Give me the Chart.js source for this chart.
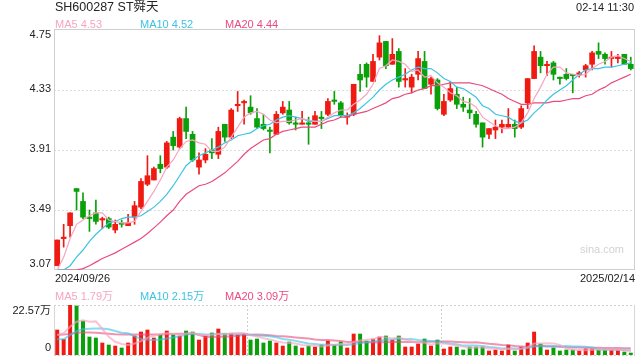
<!DOCTYPE html>
<html>
<head>
<meta charset="utf-8">
<script src="https://cdn.jsdelivr.net/npm/chart.js@4.4.0/dist/chart.umd.min.js"></script>
<style>
  body { margin: 0; background: #fff; width: 640px; height: 360px; overflow: hidden; position: relative;
         font-family: Arial, "Liberation Sans", "Noto Sans CJK SC", sans-serif; }
  canvas { position: absolute; left: 0; }
  #kline { top: 0; }
  #vol { top: 280px; }
  .t { position: absolute; white-space: nowrap; line-height: 1; }
</style>
</head>
<body>
<canvas id="kline" width="640" height="292"></canvas>
<canvas id="vol" width="640" height="80"></canvas>
<div class="t" style="left:55px;top:1px;font-size:12.5px;color:#222">SH600287 ST舜天</div>
<div class="t" style="right:6px;top:2px;font-size:11px;color:#222">02-14 11:30</div>
<div class="t" id="lg5" style="left:55px;top:18.5px;font-size:11px"></div>
<div class="t" id="lg10" style="left:140px;top:18.5px;font-size:11px"></div>
<div class="t" id="lg20" style="left:225px;top:18.5px;font-size:11px"></div>
<div class="t" id="vl5" style="left:55px;top:290.5px;font-size:11px"></div>
<div class="t" id="vl10" style="left:140px;top:290.5px;font-size:11px"></div>
<div class="t" id="vl20" style="left:225px;top:290.5px;font-size:11px"></div>
<script>
// trading days shown
const dates = [
  '2024/09/26','2024/09/27','2024/09/30',
  '2024/10/08','2024/10/09','2024/10/10','2024/10/11','2024/10/14','2024/10/15','2024/10/16','2024/10/17','2024/10/18',
  '2024/10/21','2024/10/22','2024/10/23','2024/10/24','2024/10/25','2024/10/28','2024/10/29','2024/10/30','2024/10/31',
  '2024/11/01','2024/11/04','2024/11/05','2024/11/06','2024/11/07','2024/11/08','2024/11/11','2024/11/12','2024/11/13',
  '2024/11/14','2024/11/15','2024/11/18','2024/11/19','2024/11/20','2024/11/21','2024/11/22','2024/11/25','2024/11/26',
  '2024/11/27','2024/11/28','2024/11/29',
  '2024/12/02','2024/12/03','2024/12/04','2024/12/05','2024/12/06','2024/12/09','2024/12/10','2024/12/11','2024/12/12',
  '2024/12/13','2024/12/16','2024/12/17','2024/12/18','2024/12/19','2024/12/20','2024/12/23','2024/12/24','2024/12/25',
  '2024/12/26','2024/12/27','2024/12/30','2024/12/31',
  '2025/01/02','2025/01/03','2025/01/06','2025/01/07','2025/01/08','2025/01/09','2025/01/10','2025/01/13','2025/01/14',
  '2025/01/15','2025/01/16','2025/01/17','2025/01/20','2025/01/21','2025/01/22','2025/01/23','2025/01/24','2025/01/27',
  '2025/02/05','2025/02/06','2025/02/07','2025/02/10','2025/02/11','2025/02/12','2025/02/13','2025/02/14'
];

const open = [
  3.10,3.29,3.38,3.64,3.55,3.44,3.47,3.42,3.43,3.35,
  3.40,3.38,3.44,3.51,3.67,3.70,3.81,3.79,4.00,3.93,
  4.13,4.02,3.79,3.84,3.91,3.88,4.09,4.00,4.22,4.24,
  4.21,4.13,4.09,4.05,4.02,4.17,4.19,4.10,4.09,4.10,
  4.09,4.14,4.16,4.26,4.24,4.14,4.16,4.44,4.51,4.39,
  4.56,4.67,4.51,4.60,4.40,4.35,4.44,4.53,4.37,4.40,
  4.16,4.26,4.30,4.23,4.19,4.16,4.10,4.02,4.05,4.07,
  4.07,4.09,4.07,4.24,4.41,4.56,4.50,4.52,4.42,4.44,
  4.44,4.44,4.47,4.51,4.60,4.58,4.55,4.55,4.58,4.51
];
const high = [
  3.28,3.39,3.47,3.64,3.61,3.49,3.56,3.44,3.44,3.42,
  3.42,3.46,3.55,3.71,3.87,3.79,3.87,3.97,4.04,4.14,
  4.21,4.04,3.89,3.92,3.99,4.07,4.09,4.20,4.32,4.26,
  4.29,4.20,4.16,4.07,4.18,4.25,4.25,4.14,4.18,4.14,
  4.18,4.18,4.27,4.32,4.25,4.17,4.37,4.51,4.52,4.58,
  4.71,4.67,4.69,4.62,4.48,4.44,4.60,4.60,4.42,4.41,
  4.30,4.39,4.35,4.28,4.27,4.18,4.10,4.06,4.12,4.12,
  4.20,4.12,4.22,4.41,4.64,4.60,4.53,4.53,4.42,4.48,
  4.44,4.46,4.51,4.60,4.66,4.59,4.60,4.58,4.58,4.56
];
const low = [
  3.10,3.23,3.30,3.49,3.43,3.34,3.39,3.36,3.36,3.33,
  3.37,3.38,3.39,3.50,3.66,3.70,3.75,3.78,3.91,3.92,
  3.99,3.83,3.74,3.82,3.85,3.85,3.97,3.99,4.18,4.09,
  4.16,4.06,4.05,3.89,4.02,4.16,4.09,4.05,4.09,3.95,
  4.09,4.06,4.15,4.23,4.14,4.09,4.15,4.32,4.35,4.39,
  4.54,4.48,4.51,4.35,4.35,4.31,4.40,4.34,4.30,4.19,
  4.15,4.25,4.20,4.18,4.13,4.07,3.93,3.99,3.99,4.03,
  4.07,4.00,4.06,4.20,4.41,4.45,4.43,4.40,4.37,4.40,
  4.31,4.42,4.42,4.47,4.55,4.51,4.49,4.52,4.51,4.47
];
const close = [
  3.28,3.30,3.47,3.62,3.44,3.43,3.41,3.43,3.37,3.39,
  3.39,3.40,3.52,3.69,3.73,3.78,3.78,3.96,3.94,4.13,
  4.04,3.84,3.84,3.88,3.89,4.04,4.00,4.19,4.23,4.25,
  4.17,4.07,4.06,4.04,4.16,4.21,4.10,4.09,4.10,4.09,
  4.15,4.13,4.25,4.25,4.15,4.15,4.37,4.40,4.42,4.53,
  4.66,4.50,4.58,4.39,4.41,4.42,4.55,4.34,4.41,4.20,
  4.25,4.34,4.23,4.21,4.17,4.09,4.00,4.06,4.07,4.09,
  4.09,4.06,4.20,4.41,4.60,4.50,4.51,4.44,4.41,4.41,
  4.43,4.45,4.50,4.59,4.58,4.55,4.56,4.56,4.51,4.48
];

// moving average lines
const ma5 = [
  3.07,3.16,3.29,3.39,3.42,3.45,3.47,3.47,3.42,3.41,
  3.40,3.40,3.41,3.48,3.55,3.62,3.70,3.79,3.84,3.92,
  3.97,3.98,3.96,3.95,3.90,3.90,3.93,4.00,4.07,4.14,
  4.17,4.18,4.16,4.12,4.10,4.11,4.11,4.12,4.13,4.12,
  4.11,4.11,4.14,4.17,4.19,4.19,4.23,4.26,4.30,4.37,
  4.48,4.50,4.54,4.53,4.51,4.46,4.47,4.42,4.43,4.38,
  4.35,4.31,4.29,4.25,4.24,4.21,4.14,4.11,4.08,4.06,
  4.06,4.07,4.10,4.17,4.27,4.35,4.44,4.49,4.49,4.45,
  4.44,4.43,4.44,4.48,4.51,4.53,4.56,4.57,4.55,4.53
];
const ma10 = [
  3.07,3.07,3.10,3.16,3.21,3.27,3.32,3.36,3.40,3.41,
  3.43,3.44,3.44,3.45,3.48,3.51,3.55,3.60,3.66,3.73,
  3.80,3.84,3.87,3.89,3.91,3.93,3.96,3.98,4.01,4.02,
  4.03,4.06,4.08,4.09,4.12,4.14,4.15,4.14,4.13,4.11,
  4.11,4.11,4.13,4.15,4.15,4.15,4.17,4.20,4.24,4.28,
  4.33,4.37,4.40,4.42,4.44,4.47,4.49,4.48,4.48,4.45,
  4.41,4.39,4.35,4.34,4.31,4.28,4.22,4.20,4.16,4.15,
  4.14,4.11,4.10,4.12,4.17,4.21,4.26,4.30,4.33,4.36,
  4.40,4.44,4.47,4.48,4.48,4.49,4.49,4.50,4.51,4.52
];
const ma20 = [
  3.07,3.07,3.07,3.07,3.08,3.10,3.125,3.15,3.17,3.19,
  3.215,3.24,3.265,3.29,3.325,3.365,3.405,3.45,3.49,3.55,
  3.60,3.63,3.66,3.67,3.69,3.72,3.75,3.79,3.83,3.88,
  3.92,3.95,3.98,3.99,4.02,4.04,4.05,4.06,4.07,4.07,
  4.07,4.09,4.11,4.12,4.14,4.14,4.16,4.17,4.18,4.20,
  4.22,4.24,4.27,4.28,4.30,4.31,4.33,4.34,4.36,4.36,
  4.37,4.38,4.38,4.38,4.38,4.37,4.36,4.34,4.32,4.30,
  4.27,4.25,4.23,4.23,4.24,4.24,4.24,4.25,4.25,4.26,
  4.27,4.27,4.29,4.30,4.33,4.35,4.38,4.40,4.42,4.44
];

// volume, in 万 shares
const volume = [
  11.29,7.07,22.57,22.12,15.35,8.13,7.67,5.42,4.51,4.06,
  3.16,5.42,8.58,10.38,11.29,7.67,9.03,10.83,9.03,8.58,
  10.83,10.38,6.77,8.58,9.93,11.74,9.48,9.48,9.03,9.48,
  6.77,7.22,5.42,6.32,5.42,4.06,5.87,4.06,3.16,4.06,
  3.61,4.51,6.32,4.51,5.87,3.16,9.48,9.48,6.32,7.22,
  8.13,8.58,6.77,8.58,3.61,3.61,4.97,7.22,4.06,6.77,
  2.71,3.61,3.61,2.26,3.61,3.61,3.61,1.81,2.26,1.81,
  4.51,1.81,3.61,5.42,10.38,4.97,2.26,3.16,1.81,2.26,
  2.26,1.81,2.71,2.71,2.26,2.26,2.26,2.26,1.35,0.90
];
const vma5 = [
  9.0,9.8,12.8,15.0,15.68,15.05,15.17,11.74,8.22,5.96,
  4.96,4.51,5.15,6.32,7.77,8.67,9.39,9.84,9.57,9.03,
  9.66,9.93,9.12,9.03,9.30,9.48,9.30,9.84,9.93,9.84,
  8.85,8.40,7.58,7.04,6.23,5.69,5.42,5.15,4.51,4.24,
  4.15,3.88,4.33,4.60,4.96,4.87,5.87,6.50,6.86,7.13,
  8.13,7.95,7.40,7.86,7.13,6.23,5.51,5.60,4.69,5.33,
  5.15,4.87,4.15,3.79,3.16,3.34,3.34,2.98,2.98,2.62,
  2.80,2.44,2.80,3.43,5.15,5.24,5.33,5.24,4.52,2.89,
  2.35,2.26,2.17,2.35,2.35,2.35,2.44,2.35,2.08,1.79
];
const vma10 = [
  7.1,7.1,9.0,10.8,11.6,11.9,12.0,12.0,11.6,10.82,
  10.01,9.84,8.44,7.27,6.86,6.82,6.95,7.49,7.95,8.40,
  9.16,9.66,9.48,9.30,9.16,9.57,9.62,9.48,9.48,9.57,
  9.16,8.85,8.71,8.49,8.04,7.27,6.91,6.37,5.78,5.24,
  4.92,4.65,4.74,4.56,4.60,4.51,4.87,5.42,5.73,6.05,
  6.50,6.91,6.95,7.36,7.13,7.18,6.73,6.50,6.28,6.23,
  5.69,5.19,4.88,4.24,4.24,4.24,4.11,3.57,3.39,2.89,
  3.07,2.89,2.89,3.21,3.88,4.02,3.88,4.02,3.97,4.02,
  3.79,3.79,3.70,3.43,2.62,2.35,2.35,2.26,2.21,2.15
];
const vma20 = [
  9.0,9.2,9.6,10.0,10.2,10.2,10.0,9.8,9.6,9.4,
  9.3,9.2,9.2,9.2,9.2,9.2,9.3,9.4,9.5,9.61,
  9.59,9.75,8.96,8.28,8.01,8.19,8.28,8.49,8.71,8.98,
  9.16,9.25,9.10,8.89,8.60,8.42,8.26,7.92,7.63,7.40,
  7.04,6.75,6.73,6.52,6.32,5.89,5.89,5.89,5.76,5.64,
  5.71,5.78,5.85,5.96,5.87,5.85,5.80,5.96,6.00,6.14,
  6.09,6.05,5.91,5.80,5.69,5.71,5.42,5.03,4.83,4.56,
  4.38,4.04,3.88,3.72,4.06,4.13,4.00,3.79,3.68,3.45,
  3.43,3.34,3.30,3.32,3.25,3.18,3.12,3.14,3.09,3.09
];

const priceTicks = [3.07, 3.49, 3.91, 4.33, 4.75];
const volMax = 22.57;

const RED = '#ef1b13';
const GREEN = '#0aa00a';
const C5 = '#f6a5c0', C10 = '#3cc3e4', C20 = '#ea4b7e';
const FONT = '11px Arial, "Liberation Sans", "Noto Sans CJK SC", sans-serif';

const upDown = close.map((c, i) => c >= open[i] ? RED : GREEN);

// legends
const last = dates.length - 1;
function setLegend(id, name, value, color) {
  const el = document.getElementById(id);
  el.textContent = name + ' ' + value;
  el.style.color = color;
}
setLegend('lg5', 'MA5', ma5[last].toFixed(2), C5);
setLegend('lg10', 'MA10', ma10[last].toFixed(2), C10);
setLegend('lg20', 'MA20', ma20[last].toFixed(2), C20);
setLegend('vl5', 'MA5', vma5[last].toFixed(2) + '万', C5);
setLegend('vl10', 'MA10', vma10[last].toFixed(2) + '万', C10);
setLegend('vl20', 'MA20', vma20[last].toFixed(2) + '万', C20);

function lineSet(data, color, width) {
  return { type: 'line', data: data, borderColor: color, borderWidth: width,
           pointRadius: 0, tension: 0, fill: false, order: 0 };
}

// grid, frame and text of the price panel
const priceFrame = {
  id: 'priceFrame',
  beforeDatasetsDraw(chart) {
    const { ctx, chartArea: a, scales: { y } } = chart;
    ctx.save();
    ctx.lineWidth = 1;
    ctx.strokeStyle = '#dcdcdc';
    ctx.setLineDash([2, 2]);
    priceTicks.slice(1, -1).forEach(v => {
      const py = Math.round(y.getPixelForValue(v)) + 0.5;
      ctx.beginPath(); ctx.moveTo(a.left, py); ctx.lineTo(a.right, py); ctx.stroke();
    });
    ctx.setLineDash([]);
    ctx.strokeStyle = '#cfcfcf';
    ctx.strokeRect(a.left + 0.5, a.top - 0.5, a.right - a.left, a.bottom - a.top);
    ctx.restore();
  },
  afterDraw(chart) {
    const { ctx, chartArea: a, scales: { y } } = chart;
    ctx.save();
    ctx.font = FONT;
    ctx.fillStyle = '#222';
    ctx.textAlign = 'right';
    ctx.textBaseline = 'middle';
    priceTicks.forEach(v => {
      let py = y.getPixelForValue(v) - 1;
      py = Math.min(Math.max(py, a.top + 4.5), a.bottom - 6.5);
      ctx.fillText(v.toFixed(2), a.left - 3, py);
    });
    ctx.textAlign = 'left';
    ctx.fillText(dates[0], a.left + 1, a.bottom + 8.5);
    ctx.textAlign = 'right';
    ctx.fillText(dates[last], a.right + 1, a.bottom + 8.5);
    ctx.fillStyle = '#d2d2d2';
    ctx.fillText('sina.com', a.right - 10, a.bottom - 20);
    ctx.restore();
  }
};

new Chart(document.getElementById('kline'), {
  type: 'bar',
  data: {
    labels: dates,
    datasets: [
      lineSet(ma5, C5, 1.2),
      lineSet(ma10, C10, 1.2),
      lineSet(ma20, C20, 1.2),
      { data: open.map((o, i) => [o, close[i]]), backgroundColor: upDown,
        barThickness: 5, minBarLength: 1, grouped: false, order: 1 },
      { data: low.map((l, i) => [l, high[i]]), backgroundColor: upDown,
        barThickness: 1, grouped: false, order: 2 }
    ]
  },
  options: {
    responsive: false,
    animation: false,
    devicePixelRatio: 1,
    events: [],
    layout: { padding: { left: 54, right: 6, top: 30, bottom: 22 } },
    scales: {
      x: { display: false, offset: true },
      y: { display: false, min: priceTicks[0], max: priceTicks[priceTicks.length - 1] }
    },
    plugins: { legend: { display: false }, tooltip: { enabled: false } }
  },
  plugins: [priceFrame]
});

// frame and text of the volume panel
const volFrame = {
  id: 'volFrame',
  beforeDatasetsDraw(chart) {
    const { ctx, chartArea: a } = chart;
    ctx.save();
    ctx.lineWidth = 1;
    ctx.strokeStyle = '#cfcfcf';
    ctx.setLineDash([2, 2]);
    [a.top + 0.5, a.bottom + 0.5].forEach(py => {
      ctx.beginPath(); ctx.moveTo(a.left, py); ctx.lineTo(a.right + 1, py); ctx.stroke();
    });
    [1, 2].forEach(k => {
      const px = Math.round(a.left + (a.right - a.left) * k / 3) + 0.5;
      ctx.beginPath(); ctx.moveTo(px, a.top); ctx.lineTo(px, a.bottom); ctx.stroke();
    });
    ctx.setLineDash([]);
    ctx.strokeStyle = '#d6d6d6';
    [a.left + 0.5, a.right + 0.5].forEach(px => {
      ctx.beginPath(); ctx.moveTo(px, a.top); ctx.lineTo(px, a.bottom + 1); ctx.stroke();
    });
    ctx.restore();
  },
  afterDraw(chart) {
    const { ctx, chartArea: a, scales: { y } } = chart;
    ctx.save();
    ctx.font = FONT;
    ctx.fillStyle = '#222';
    ctx.textAlign = 'right';
    ctx.textBaseline = 'middle';
    ctx.fillText(volMax.toFixed(2) + '万', a.left - 3, y.getPixelForValue(volMax) + 6);
    ctx.fillText('0', a.left - 3, y.getPixelForValue(0) - 7);
    ctx.restore();
  }
};

new Chart(document.getElementById('vol'), {
  type: 'bar',
  data: {
    labels: dates,
    datasets: [
      lineSet(vma5, 'rgba(246,165,192,0.65)', 2),
      lineSet(vma10, 'rgba(60,195,228,0.6)', 2),
      lineSet(vma20, 'rgba(234,75,126,0.6)', 2),
      { data: volume, backgroundColor: upDown, barThickness: 3.3, grouped: false, order: 1 }
    ]
  },
  options: {
    responsive: false,
    animation: false,
    devicePixelRatio: 1,
    events: [],
    layout: { padding: { left: 54, right: 6, top: 25, bottom: 5 } },
    scales: {
      x: { display: false, offset: true },
      y: { display: false, min: 0, max: volMax }
    },
    plugins: { legend: { display: false }, tooltip: { enabled: false } }
  },
  plugins: [volFrame]
});
</script>
</body>
</html>
